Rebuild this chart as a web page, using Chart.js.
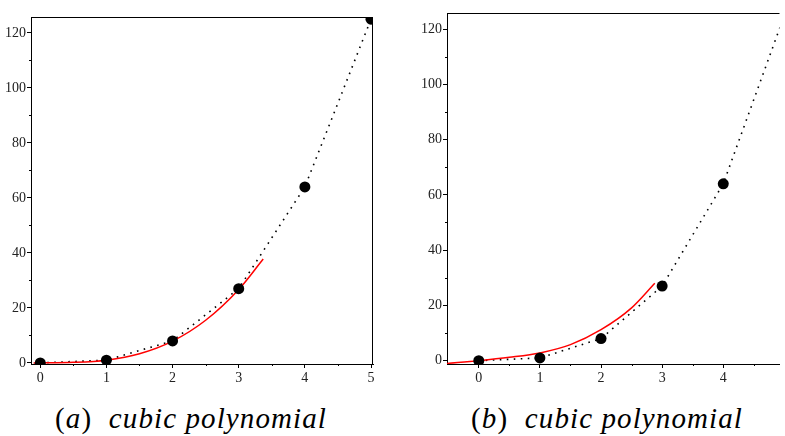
<!DOCTYPE html>
<html>
<head>
<meta charset="utf-8">
<script src="https://cdn.jsdelivr.net/npm/chart.js@4/dist/chart.umd.min.js"></script>
<style>
  body { margin: 0; background: #fff; width: 785px; height: 436px; position: relative; overflow: hidden; }
  canvas { position: absolute; top: 0; }
  #cA { left: 0; }
  #cB { left: 395px; }
  .cap { position: absolute; top: 404px; font-family: "Liberation Serif", "Times New Roman", serif; font-size: 29px; letter-spacing: 1.1px; line-height: 1; white-space: pre; color: #000; }
  .cap i { font-style: italic; }
</style>
</head>
<body>
<canvas id="cA" width="390" height="400"></canvas>
<canvas id="cB" width="390" height="400"></canvas>
<div class="cap" style="left:55px">(<i>a</i>)  <i>cubic polynomial</i></div>
<div class="cap" style="left:471px">(<i>b</i>)  <i>cubic polynomial</i></div>
<script>
// data points (both panels)
const ptsX = [0, 1, 2, 3, 4, 5];
const ptsY = [0, 1, 8, 27, 64, 125];

// red curve, panel a
const redAx = [-0.1, 0.5, 1.0, 1.5, 2.0, 2.5, 3.0, 3.37];
const redAy = [0, 0.2, 1.0, 3.3, 7.9, 15.5, 26.7, 37.8];

// red curve, panel b
const redBx = [-0.52, 0, 0.5, 1.0, 1.5, 2.0, 2.5, 2.88];
const redBy = [-1.0, 0, 1.2, 2.8, 5.8, 11.2, 19.1, 28.0];

// ticks
const xTicksA = [0, 1, 2, 3, 4, 5];
const xMinorA = [0.5, 1.5, 2.5, 3.5, 4.5];
const xTicksB = [0, 1, 2, 3, 4];
const xMinorB = [0.5, 1.5, 2.5, 3.5, 4.5];
const yTicks = [0, 20, 40, 60, 80, 100, 120];
const yMinor = [10, 30, 50, 70, 90, 110];

const tickFont = { family: "'Liberation Serif', 'Times New Roman', serif", size: 14 };

function xy(xs, ys) { return xs.map((x, i) => ({ x: x, y: ys[i] })); }

// box lines + minor ticks
const boxPlugin = {
    id: 'box',
    afterDraw(chart, args, o) {
        const ctx = chart.ctx, a = chart.chartArea;
        const sx = chart.scales.x, sy = chart.scales.y;
        ctx.save();
        ctx.strokeStyle = '#000';
        ctx.lineWidth = 1;
        ctx.beginPath();
        ctx.moveTo(a.left, a.top + 0.5); ctx.lineTo(a.right, a.top + 0.5);
        if (o.right) { ctx.moveTo(a.right - 0.5, a.top); ctx.lineTo(a.right - 0.5, a.bottom); }
        o.xMinor.forEach(v => {
            const px = Math.round(sx.getPixelForValue(v)) + 0.5;
            ctx.moveTo(px, a.bottom); ctx.lineTo(px, a.bottom + 2);
        });
        o.yMinor.forEach(v => {
            const py = Math.round(sy.getPixelForValue(v)) + 0.5;
            ctx.moveTo(a.left, py); ctx.lineTo(a.left - 2, py);
        });
        ctx.stroke();
        ctx.restore();
    }
};

function makeChart(id, red, dotCount, xr, yr, xt, xm, pad, yW, right) {
    return new Chart(document.getElementById(id), {
        type: 'scatter',
        data: {
            datasets: [
                { data: xy(ptsX, ptsY).slice(0, dotCount), pointRadius: 5.5, pointBackgroundColor: '#000', pointBorderWidth: 0, showLine: false },
                { data: red, showLine: true, borderColor: '#ff0000', borderWidth: 1.5, pointRadius: 0, cubicInterpolationMode: 'monotone' },
                { data: xy(ptsX, ptsY), showLine: true, borderColor: '#000', borderWidth: 1.6, borderDash: [1.6, 5.4], pointRadius: 0 }
            ]
        },
        options: {
            responsive: false,
            animation: false,
            layout: { padding: pad },
            plugins: {
                legend: { display: false },
                tooltip: { enabled: false },
                box: { right: right, xMinor: xm, yMinor: yMinor }
            },
            scales: {
                x: {
                    min: xr[0], max: xr[1],
                    afterBuildTicks: s => { s.ticks = xt.map(v => ({ value: v })); },
                    afterFit: s => { s.height = 36; },
                    grid: { drawOnChartArea: false, tickLength: 4, color: '#000' },
                    border: { color: '#000', width: 1 },
                    ticks: { font: tickFont, color: '#222', padding: 2, maxRotation: 0 }
                },
                y: {
                    min: yr[0], max: yr[1],
                    afterBuildTicks: s => { s.ticks = yTicks.map(v => ({ value: v })); },
                    afterFit: s => { s.width = yW; },
                    grid: { drawOnChartArea: false, tickLength: 4, color: '#000' },
                    border: { color: '#000', width: 1 },
                    ticks: { font: tickFont, color: '#222', padding: 1 }
                }
            }
        },
        plugins: [boxPlugin]
    });
}

makeChart('cA', xy(redAx, redAy), 6, [-0.14, 5.03], [-0.4, 125.8], xTicksA, xMinorA,
    { top: 17, right: 17, left: 0, bottom: 0 }, 31, true);
makeChart('cB', xy(redBx, redBy), 5, [-0.52, 4.92], [-1.2, 125.8], xTicksB, xMinorB,
    { top: 13, right: 0, left: 0, bottom: 0 }, 52, false);
</script>
</body>
</html>
